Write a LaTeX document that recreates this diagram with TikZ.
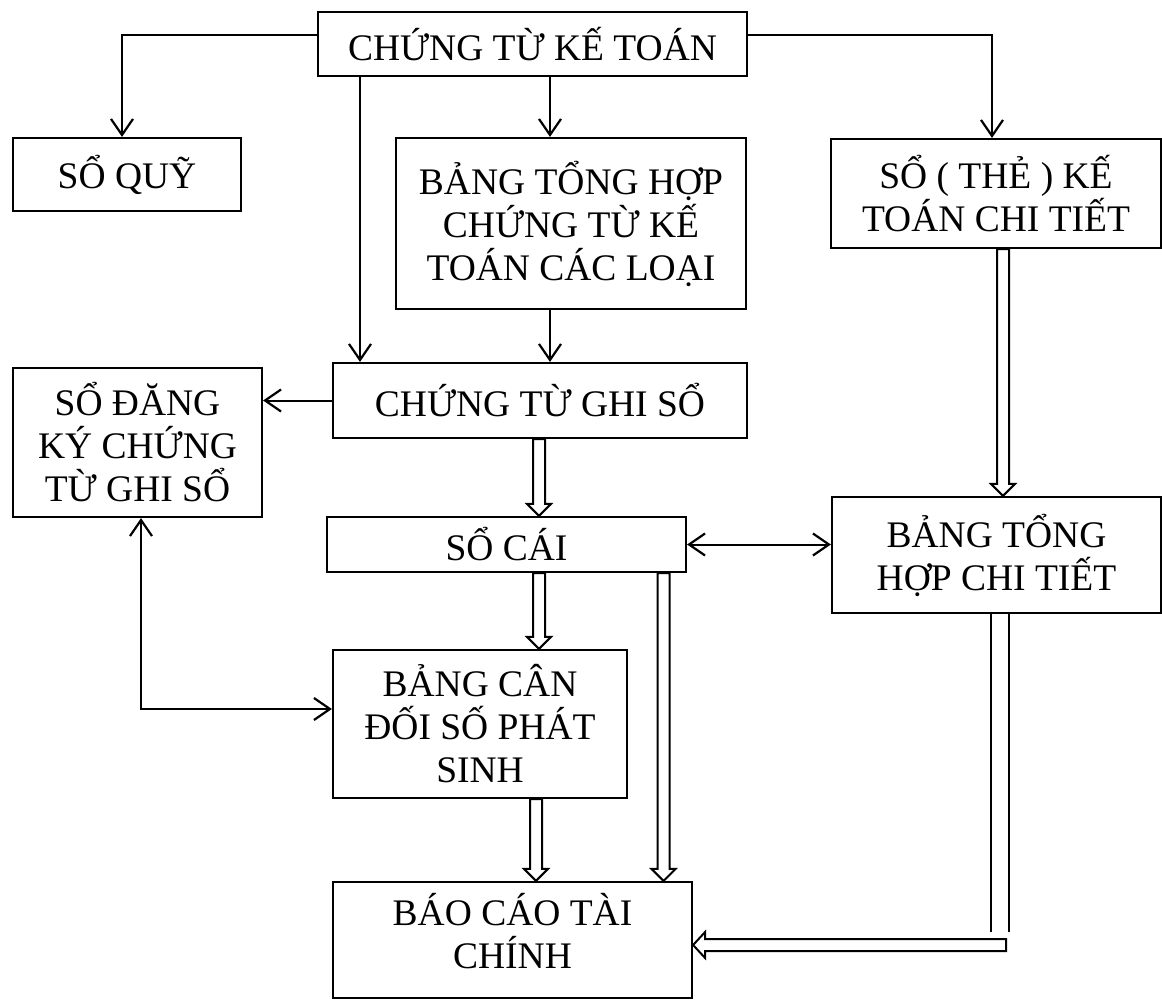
\documentclass[tikz,border=0pt]{standalone}
\usepackage{fontspec}
\setmainfont{Liberation Serif}
\usetikzlibrary{arrows.meta,calc}
\newcommand\vnfont{\fontsize{37.5}{43}\selectfont}
% hollow (outlined) downward arrow along the lane #1, from anchor #2 to anchor #3
\newcommand\hollowdown[3]{%
  \draw[hollow] let \p1=(#2 -| #1), \p2=(#3 -| #1) in
    (\x1-6pt,\y1) -- (\x1-6pt,\y2+12pt) -- (\x1-12pt,\y2+12pt) -- (\x1,\y2)
    -- (\x1+12pt,\y2+12pt) -- (\x1+6pt,\y2+12pt) -- (\x1+6pt,\y1) -- cycle;}
\begin{document}
\begin{tikzpicture}[x=1pt,y=-1pt,
  box/.style={draw, line width=2.2pt, align=center, font=\vnfont, inner sep=0pt},
  label text/.style={align=center, font=\vnfont, inner sep=0pt},
  arr/.style={line width=2pt, -{Straight Barb[length=16pt,width=22pt,line width=2.2pt]}},
  biarr/.style={line width=2pt, {Straight Barb[length=16pt,width=22pt,line width=2.2pt]}-{Straight Barb[length=16pt,width=22pt,line width=2.2pt]}},
  plain/.style={line width=2pt},
  hollow/.style={line width=2pt, fill=white, line join=miter}]
\useasboundingbox (0,0) rectangle (1162,1000);

% boxes
\node[box, minimum width=429, minimum height=64]  (ctkt)  at (532.5,44)  {CHỨNG TỪ KẾ TOÁN};
\node[box, minimum width=228, minimum height=73]  (soquy) at (127,174.5) {SỔ QUỸ};
\node[box, minimum width=350, minimum height=171] (bth)   at (571,223.5) {BẢNG TỔNG HỢP\\CHỨNG TỪ KẾ\\TOÁN CÁC LOẠI};
\node[box, minimum width=330, minimum height=109] (sothe) at (996,193.5) {SỔ ( THẺ ) KẾ\\TOÁN CHI TIẾT};
\node[box, minimum width=249, minimum height=149] (sdk)   at (137.5,442.5) {SỔ ĐĂNG\\KÝ CHỨNG\\TỪ GHI SỔ};
\node[box, minimum width=414, minimum height=75]  (ctgs)  at (540,400.5) {CHỨNG TỪ GHI SỔ};
\node[box, minimum width=359, minimum height=55]  (socai) at (506.5,544.5) {SỔ CÁI};
\node[box, minimum width=329, minimum height=116] (bthct) at (996.5,555) {BẢNG TỔNG\\HỢP CHI TIẾT};
\node[box, minimum width=294, minimum height=148] (bcd)   at (480,724) {BẢNG CÂN\\ĐỐI SỐ PHÁT\\SINH};
\node[box, minimum width=359, minimum height=116] (bctc)  at (512.5,940) {};
\node[label text] (bctct) at ([yshift=9pt]bctc.center) {BÁO CÁO TÀI\\CHÍNH};

% lanes of the vertical connectors
\coordinate (lq) at (122,0);
\coordinate (lt) at (992,0);
\coordinate (la) at (360,0);
\coordinate (lb) at (550,0);
\coordinate (lc) at (539,0);
\coordinate (ld) at (536,0);
\coordinate (le) at (663.5,0);
\coordinate (lf) at (1003,0);
\coordinate (lg) at (141,0);
\coordinate (d1) at (991,932);
\coordinate (d2) at (1009,932);
\coordinate (hs) at (1006,945);

% single-line connectors
\draw[arr] ([yshift=9pt]ctkt.west) -| (soquy.north -| lq);
\draw[arr] ([yshift=9pt]ctkt.east) -| (sothe.north -| lt);
\draw[arr] (ctkt.south -| lb) -- (bth.north -| lb);
\draw[arr] (ctkt.south -| la) -- (ctgs.north -| la);
\draw[arr] (bth.south -| lb) -- (ctgs.north -| lb);
\draw[arr] (ctgs.west) -- (ctgs.west -| sdk.east);
\draw[biarr] (socai.east) -- (socai.east -| bthct.west);
\draw[biarr] (sdk.south -| lg) |- ([yshift=15pt]bcd.west);

% hollow connectors
\hollowdown{lc}{ctgs.south}{socai.north}
\hollowdown{lc}{socai.south}{bcd.north}
\hollowdown{ld}{bcd.south}{bctc.north}
\hollowdown{le}{socai.south}{bctc.north}
\hollowdown{lf}{sothe.south}{bthct.north}
\draw[plain] (bthct.south -| d1) -- (d1);
\draw[plain] (bthct.south -| d2) -- (d2);
\draw[hollow] let \p1=(hs), \p2=(bctc.east |- hs) in
  (\x1,\y1+6pt) -- (\x2+12pt,\y1+6pt) -- (\x2+12pt,\y1+13pt) -- (\x2,\y1)
  -- (\x2+12pt,\y1-13pt) -- (\x2+12pt,\y1-6pt) -- (\x1,\y1-6pt) -- cycle;
\end{tikzpicture}
\end{document}
